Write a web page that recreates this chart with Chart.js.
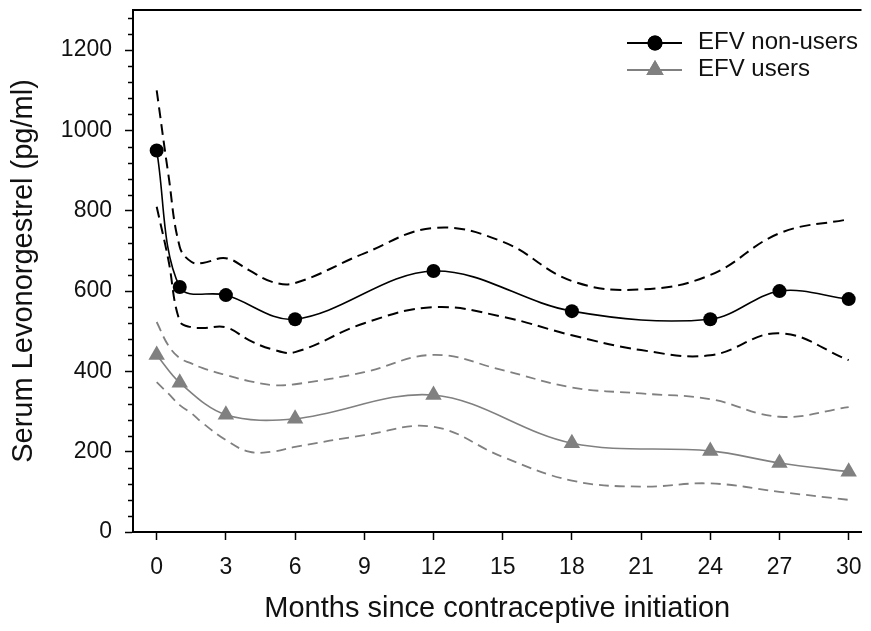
<!DOCTYPE html>
<html lang="en">

<head>
    <meta charset="UTF-8">
    <title>Serum Levonorgestrel</title>
    <script src="https://cdn.jsdelivr.net/npm/chart.js"></script>
    <style>
        body { margin: 0; background: #fff; }
        canvas { display: block; }
    </style>
</head>

<body>
    <canvas id="grafico" width="871" height="631"></canvas>
</body>

<script>

    // valores
    const meses = [0, 1, 3, 6, 12, 18, 24, 27, 30];
    const naoUsuarias = [950, 610, 590, 530, 650, 550, 530, 600, 580];
    const usuarias = [441, 372, 292, 282, 341, 221, 202, 172, 150];

    // intervalos de confiança (linhas tracejadas)
    const mesesBanda = [0, 0.5, 1, 1.5, 2, 3, 4, 5, 6, 9, 12, 15, 18, 21, 24, 27, 30];
    const naoUsuariasSup = [1100, 893, 710, 673, 670, 682, 652, 623, 620, 694, 757, 723, 625, 604, 640, 744, 779];
    const naoUsuariasInf = [810, 680, 525, 510, 508, 510, 478, 455, 448, 520, 560, 536, 490, 453, 440, 495, 428];
    const usuariasSup = [523, 465, 433, 420, 408, 391, 376, 366, 368, 398, 441, 403, 360, 345, 331, 287, 311];
    const usuariasInf = [373, 345, 316, 296, 271, 229, 200, 200, 212, 241, 262, 187, 128, 113, 121, 100, 80];

    const ticksX = [0, 3, 6, 9, 12, 15, 18, 21, 24, 27, 30];
    const ticksY = [0, 200, 400, 600, 800, 1000, 1200];
    const ticksYMenores = [40, 80, 120, 160, 240, 280, 320, 360, 440, 480, 520, 560, 640, 680, 720, 760,
        840, 880, 920, 960, 1040, 1080, 1120, 1160, 1240, 1280];

    const nomes = ['EFV non-users', 'EFV users'];
    const cinza = '#808080';

    function pontos(xs, ys) {
        var lista = [];
        for (var i = 0; i < xs.length; i++) {
            lista.push({ x: xs[i], y: ys[i] });
        }
        return lista;
    }

    function banda(ys, cor, dash, largura) {
        return {
            data: pontos(mesesBanda, ys),
            borderColor: cor,
            borderWidth: largura,
            borderDash: dash,
            pointRadius: 0,
            tension: 0.4,
            fill: false
        };
    }

    // ticks menores, borda de cima e legenda
    const extras = {
        id: 'extras',
        afterDraw(chart) {
            const ctx = chart.ctx;
            const area = chart.chartArea;
            const y = chart.scales.y;
            ctx.save();
            ctx.strokeStyle = '#000';
            ctx.lineWidth = 1.5;
            ticksYMenores.forEach(v => {
                const py = Math.round(y.getPixelForValue(v)) + 0.5;
                ctx.beginPath();
                ctx.moveTo(area.left - 5, py);
                ctx.lineTo(area.left, py);
                ctx.stroke();
            });
            ctx.lineWidth = 2;
            ctx.beginPath();
            ctx.moveTo(area.left - 1, area.top);
            ctx.lineTo(area.right, area.top);
            ctx.stroke();

            // legenda
            const linhas = [
                { y: 43, cor: '#000', estilo: 'circle', raio: 7.5 },
                { y: 70, cor: cinza, estilo: 'triangle', raio: 10 }
            ];
            linhas.forEach((l, i) => {
                ctx.strokeStyle = l.cor;
                ctx.lineWidth = 2;
                ctx.beginPath();
                ctx.moveTo(627, l.y);
                ctx.lineTo(682, l.y);
                ctx.stroke();
                ctx.fillStyle = l.cor;
                Chart.helpers.drawPoint(ctx, { pointStyle: l.estilo, radius: l.raio, borderWidth: 0 }, 655, l.y);
                ctx.fill();
                ctx.fillStyle = '#111';
                ctx.font = '24px "Liberation Sans", Arial, sans-serif';
                ctx.textBaseline = 'middle';
                ctx.textAlign = 'left';
                ctx.fillText(nomes[i], 698, l.y - 1);
            });
            ctx.restore();
        }
    };

    const fonte = '"Liberation Sans", Arial, sans-serif';

    new Chart(document.getElementById('grafico'), {
        type: 'line',
        data: {
            datasets: [
                banda(naoUsuariasSup, '#000', [11, 6], 2),
                banda(naoUsuariasInf, '#000', [11, 6], 2),
                banda(usuariasSup, cinza, [10, 6], 1.8),
                banda(usuariasInf, cinza, [10, 6], 1.8),
                {
                    label: nomes[1],
                    data: pontos(meses, usuarias),
                    borderColor: cinza,
                    borderWidth: 1.6,
                    pointStyle: 'triangle',
                    pointRadius: 9.5,
                    pointBackgroundColor: cinza,
                    pointBorderWidth: 0,
                    tension: 0.35
                },
                {
                    label: nomes[0],
                    data: pontos(meses, naoUsuarias),
                    borderColor: '#000',
                    borderWidth: 1.6,
                    pointStyle: 'circle',
                    pointRadius: 7,
                    pointBackgroundColor: '#000',
                    pointBorderWidth: 0,
                    tension: 0.35
                }
            ]
        },
        options: {
            responsive: false,
            animation: false,
            layout: { padding: { top: 10, right: 0, left: 0, bottom: 0 } },
            plugins: {
                legend: { display: false },
                tooltip: { enabled: false }
            },
            scales: {
                x: {
                    type: 'linear',
                    min: -1.027,
                    max: 30.556,
                    afterBuildTicks: scale => { scale.ticks = ticksX.map(v => ({ value: v })); },
                    afterFit: scale => {
                        scale.height = 99;
                        scale.paddingLeft = 0;
                        scale.paddingRight = 0;
                    },
                    border: { color: '#000', width: 2 },
                    grid: { drawOnChartArea: false, tickLength: 8, tickColor: '#000', tickWidth: 1.5 },
                    ticks: { color: '#111', padding: 14, font: { family: fonte, size: 23 } },
                    title: {
                        display: true,
                        text: 'Months since contraceptive initiation',
                        color: '#111',
                        font: { family: fonte, size: 29 },
                        padding: { top: 8, bottom: 5 }
                    }
                },
                y: {
                    min: 0,
                    max: 1300,
                    afterBuildTicks: scale => { scale.ticks = ticksY.map(v => ({ value: v })); },
                    afterFit: scale => {
                        scale.width = 133;
                        scale.paddingTop = 0;
                        scale.paddingBottom = 0;
                    },
                    border: { color: '#000', width: 2 },
                    grid: { drawOnChartArea: false, tickLength: 8, tickColor: '#000', tickWidth: 1.5 },
                    ticks: {
                        color: '#111',
                        padding: 13,
                        font: { family: fonte, size: 23 },
                        callback: v => String(v)
                    },
                    title: {
                        display: true,
                        text: 'Serum Levonorgestrel (pg/ml)',
                        color: '#111',
                        font: { family: fonte, size: 29 },
                        padding: { top: 7, bottom: 7 }
                    }
                }
            }
        },
        plugins: [extras]
    });

</script>

</html>
